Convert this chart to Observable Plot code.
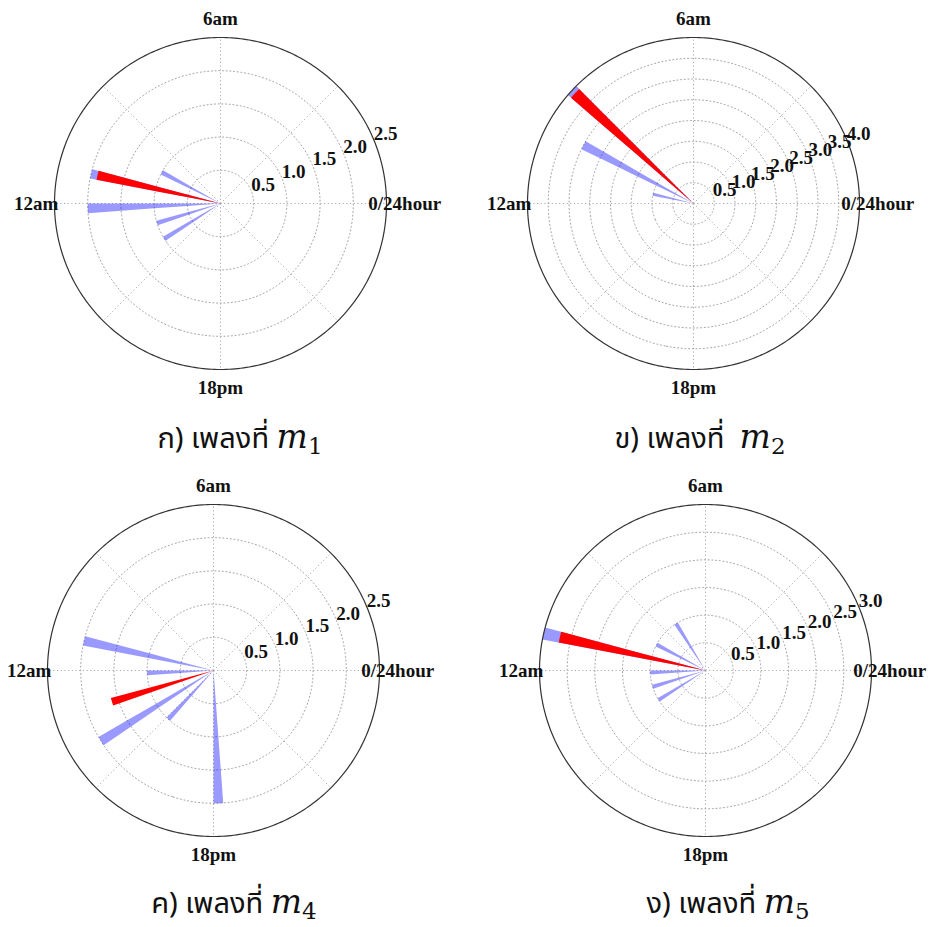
<!DOCTYPE html>
<html>
<head>
<meta charset="utf-8">
<script src="https://cdn.jsdelivr.net/npm/d3@7"></script>
<script src="https://cdn.jsdelivr.net/npm/@observablehq/plot@0.6"></script>
<style>
  html, body { margin: 0; padding: 0; background: #fff; }
  #wrap { position: relative; width: 930px; height: 927px; background: #fff; }
  .panel { position: absolute; }
  .cap { position: absolute; white-space: nowrap; transform: translateX(-50%);
         font-family: "Noto Sans Thai", "Leelawadee UI", Tahoma, "Noto Sans", sans-serif;
         font-size: 29px; line-height: 34px; color: #111; }
  .cap .m { font-family: "DejaVu Serif", "Liberation Serif", serif; font-style: italic; font-size: 33px; }
  .cap .m sub { font-style: normal; font-size: 23px; line-height: 0; vertical-align: -6px; }
</style>
</head>
<body>
<div id="wrap"></div>
<script>
// ---------- data ----------
const HOUR_TICKS = [0, 6, 12, 18];
const HOUR_TICK_LABELS = ["0/24hour", "6am", "12am", "18pm"];
const GRID_HOURS = [0, 3, 6, 9, 12, 15, 18, 21];
const BAR_WIDTH_HOURS = 0.28;
const R_LABEL_HOUR = 1.5; // 22.5 degrees

const captionLetters = ["ก)", "ข)", "ค)", "ง)"];
const captionWord = "เพลงที่";
const songNumbers = [1, 2, 4, 5];
const radialMax = [2.5, 4.0, 2.5, 3.0];

const m1Ticks = [0.5, 1.0, 1.5, 2.0, 2.5];
const m1BlueHours = [10, 11, 12, 13, 14];
const m1BlueValues = [1.0, 2.0, 2.0, 1.0, 1.0];
const m1RedHours = [11];
const m1RedValues = [1.9];

const m2Ticks = [0.5, 1.0, 1.5, 2.0, 2.5, 3.0, 3.5, 4.0];
const m2BlueHours = [9, 10, 11];
const m2BlueValues = [4.0, 3.0, 1.0];
const m2RedHours = [9];
const m2RedValues = [3.9];

const m4Ticks = [0.5, 1.0, 1.5, 2.0, 2.5];
const m4BlueHours = [11, 12, 14, 15, 18];
const m4BlueValues = [2.0, 1.0, 2.0, 1.0, 2.0];
const m4RedHours = [13];
const m4RedValues = [1.6];

const m5Ticks = [0.5, 1.0, 1.5, 2.0, 2.5, 3.0];
const m5BlueHours = [8, 10, 11, 12, 13, 14];
const m5BlueValues = [1.0, 1.0, 3.0, 1.0, 1.0, 1.0];
const m5RedHours = [11];
const m5RedValues = [2.7];

// ---------- layout ----------
const panels = [
  {ticks: m1Ticks, bh: m1BlueHours, bv: m1BlueValues, rh: m1RedHours, rv: m1RedValues, cx: 220, cy: 203, capX: 240, capY: 437},
  {ticks: m2Ticks, bh: m2BlueHours, bv: m2BlueValues, rh: m2RedHours, rv: m2RedValues, cx: 692.5, cy: 203, capX: 700, capY: 437},
  {ticks: m4Ticks, bh: m4BlueHours, bv: m4BlueValues, rh: m4RedHours, rv: m4RedValues, cx: 212.5, cy: 670, capX: 234, capY: 902},
  {ticks: m5Ticks, bh: m5BlueHours, bv: m5BlueValues, rh: m5RedHours, rv: m5RedValues, cx: 704.5, cy: 670, capX: 728, capY: 902}
];

const SIZE = 440, RADIUS = 166;
const lonOf = h => 90 + h * 15;
const latOf = (r, rMax) => 90 - r / rMax * 90;

function wedge(h, v, rMax) {
  const l0 = lonOf(h), l1 = lonOf(h + BAR_WIDTH_HOURS);
  const lat = latOf(v, rMax);
  const coords = [[l0, 89.9999], [l1, 89.9999]];
  const n = 6;
  for (let i = 0; i <= n; i++) coords.push([l1 - (l1 - l0) * i / n, lat]);
  coords.push([l0, 89.9999]);
  return {type: "Polygon", coordinates: [coords]};
}

const labelFont = {fontFamily: "Liberation Serif, Times New Roman, serif", fontWeight: "bold", fontSize: 19, fill: "#111"};
const gridStyle = {stroke: "#9a9a9a", strokeWidth: 0.9, strokeDasharray: "1.1,2.6"};

const wrap = document.getElementById("wrap");

panels.forEach((p, i) => {
  const rMax = radialMax[i];
  const blue = p.bh.map((h, k) => ({h, v: p.bv[k]}));
  const red = p.rh.map((h, k) => ({h, v: p.rv[k]}));
  const inner = p.ticks.filter(t => t < rMax - 1e-9);
  const hourLabels = HOUR_TICKS.map((h, k) => ({h, label: HOUR_TICK_LABELS[k]}));
  const margin = SIZE / 2 - RADIUS;
  const chart = Plot.plot({
    width: SIZE, height: SIZE,
    marginTop: margin, marginBottom: margin, marginLeft: margin, marginRight: margin,
    projection: {
      type: "azimuthal-equidistant",
      rotate: [0, -90],
      clip: false,
      domain: d3.geoCircle().center([0, 90]).radius(90)()
    },
    style: {background: "transparent", overflow: "visible"},
    marks: [
      Plot.geo(inner, {geometry: t => d3.geoCircle().center([0, 90]).radius(t / rMax * 90).precision(1)(), fill: "none", ...gridStyle}),
      Plot.link(GRID_HOURS, {x1: h => lonOf(h), y1: 90, x2: h => lonOf(h), y2: 0, ...gridStyle}),
      Plot.geo(blue, {geometry: d => wedge(d.h, d.v, rMax), fill: "blue", fillOpacity: 0.4, stroke: "none"}),
      Plot.geo(red, {geometry: d => wedge(d.h, d.v, rMax), fill: "red", stroke: "none"}),
      Plot.geo([d3.geoCircle().center([0, 90]).radius(90).precision(1)()], {fill: "none", stroke: "#333", strokeWidth: 1.2}),
      Plot.text(p.ticks, {x: () => lonOf(R_LABEL_HOUR), y: t => latOf(t, rMax), text: t => t.toFixed(1), textAnchor: "start", lineAnchor: "bottom", ...labelFont}),
      Plot.text(hourLabels, {x: d => lonOf(d.h), y: () => 90 - 1.11 * 90, text: "label", textAnchor: "middle", lineAnchor: "middle", ...labelFont})
    ]
  });
  chart.classList.add("panel");
  chart.style.left = (p.cx - SIZE / 2) + "px";
  chart.style.top = (p.cy - SIZE / 2) + "px";
  chart.style.maxWidth = "none";
  wrap.appendChild(chart);

  const cap = document.createElement("div");
  cap.className = "cap";
  cap.style.left = p.capX + "px";
  cap.style.top = (p.capY - 17) + "px";
  const gap = i === 1 ? "\u00a0\u00a0" : "\u00a0";
  cap.innerHTML = `${captionLetters[i]} ${captionWord}${gap}<span class="m">m<sub>${songNumbers[i]}</sub></span>`;
  wrap.appendChild(cap);
});
</script>
</body>
</html>
